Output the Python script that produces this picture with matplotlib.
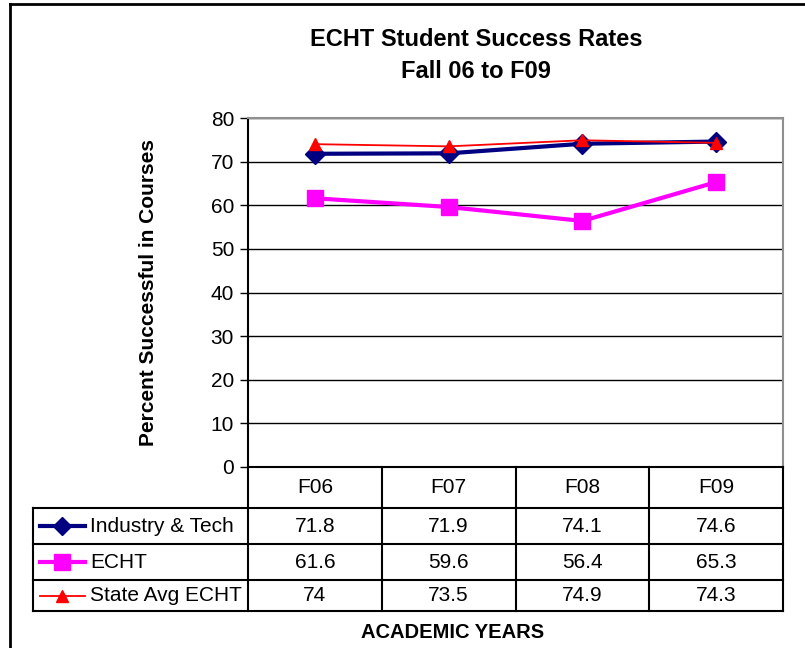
import matplotlib.pyplot as plt
from matplotlib.lines import Line2D

plt.rcParams['font.family'] = ['Liberation Sans', 'DejaVu Sans']

years = ['F06', 'F07', 'F08', 'F09']
industry_tech = [71.8, 71.9, 74.1, 74.6]
echt = [61.6, 59.6, 56.4, 65.3]
state_avg = [74, 73.5, 74.9, 74.3]
series_names = ['Industry & Tech', 'ECHT', 'State Avg ECHT']
y_ticks = [0, 10, 20, 30, 40, 50, 60, 70, 80]

W, H = 805, 648
fig = plt.figure(figsize=(W / 100, H / 100), dpi=100)


def box(x0, y0, x1, y1):
    # pixel box (top-left origin) -> figure fraction rect
    return [x0 / W, 1 - y1 / H, (x1 - x0) / W, (y1 - y0) / H]


styles = [
    dict(color='#000080', marker='D', markersize=10, linewidth=3),
    dict(color='#FF00FF', marker='s', markersize=12, linewidth=3),
    dict(color='#FF0000', marker='^', markersize=9, linewidth=1.3),
]
values = [industry_tech, echt, state_avg]

# plot area
plot_l, plot_r, plot_t, plot_b = 248, 783, 118, 467
ax = fig.add_axes(box(plot_l, plot_t, plot_r, plot_b))
x = list(range(len(years)))
for vals, st in zip(values, styles):
    ax.plot(x, vals, **st, clip_on=False)
ax.set_xlim(-0.5, len(years) - 0.5)
ax.set_ylim(0, 80)
ax.set_yticks(y_ticks)
ax.set_yticklabels([str(t) for t in y_ticks], fontsize=15)
ax.set_xticks([])
ax.grid(axis='y', color='black', linewidth=1)
ax.set_axisbelow(True)
ax.tick_params(axis='y', direction='out', length=6, width=1, pad=4)
ax.spines['left'].set_color('black')
ax.spines['left'].set_linewidth(1.5)
for s in ['top', 'right']:
    ax.spines[s].set_color('#909090')
    ax.spines[s].set_linewidth(1.5)
ax.spines['bottom'].set_visible(False)
ax.set_ylabel('Percent Successful in Courses', fontsize=15, fontweight='bold', labelpad=38)

# data table below, sharing the category scale
tab_l = 33
col_w = (plot_r - plot_l) / len(years)
tab = fig.add_axes(box(tab_l, plot_b, plot_r, 611))
tab.set_xlim(-0.5 - (plot_l - tab_l) / col_w, len(years) - 0.5)
row_edges = [467, 508, 544, 580, 611]
tab.set_ylim(row_edges[-1], row_edges[0])
tab.axis('off')
lw = 1.5
# horizontal lines
tab.plot([-0.5, len(years) - 0.5], [row_edges[0]] * 2, color='black', lw=lw, clip_on=False)
for yy in row_edges[1:]:
    tab.plot(tab.get_xlim(), [yy, yy], color='black', lw=lw, clip_on=False)
# vertical lines
tab.plot([tab.get_xlim()[0]] * 2, [row_edges[1], row_edges[-1]], color='black', lw=lw, clip_on=False)
for i in range(len(years) + 1):
    tab.plot([i - 0.5, i - 0.5], [row_edges[0], row_edges[-1]], color='black', lw=lw, clip_on=False)

for i, yr in enumerate(years):
    tab.text(i, (row_edges[0] + row_edges[1]) / 2, yr, ha='center', va='center', fontsize=15)
x0 = tab.get_xlim()[0]
for r, (name, vals, st) in enumerate(zip(series_names, values, styles)):
    yc = (row_edges[r + 1] + row_edges[r + 2]) / 2
    for i, v in enumerate(vals):
        tab.text(i, yc, f'{v:g}', ha='center', va='center', fontsize=15)
    k0 = x0 + 7 / col_w
    k1 = x0 + 52 / col_w
    tab.plot([k0, k1], [yc, yc], color=st['color'], lw=st['linewidth'], clip_on=False)
    tab.plot([(k0 + k1) / 2], [yc], marker=st['marker'], color=st['color'],
             markersize=st['markersize'] - 1, clip_on=False)
    tab.text(x0 + 57 / col_w, yc, name, ha='left', va='center', fontsize=15)

fig.text(476 / W, 1 - 40 / H, 'ECHT Student Success Rates', ha='center', va='center',
         fontsize=17, fontweight='bold')
fig.text(476 / W, 1 - 72 / H, 'Fall 06 to F09', ha='center', va='center',
         fontsize=17, fontweight='bold')
fig.text(453 / W, 1 - 632 / H, 'ACADEMIC YEARS', ha='center', va='center',
         fontsize=14.5, fontweight='bold')

# outer chart frame
fig.add_artist(Line2D([10 / W, 10 / W], [0, 1 - 4 / H], color='black', lw=2))
fig.add_artist(Line2D([10 / W, 1], [1 - 4 / H, 1 - 4 / H], color='black', lw=2))

fig.savefig('out.png', dpi=100)
